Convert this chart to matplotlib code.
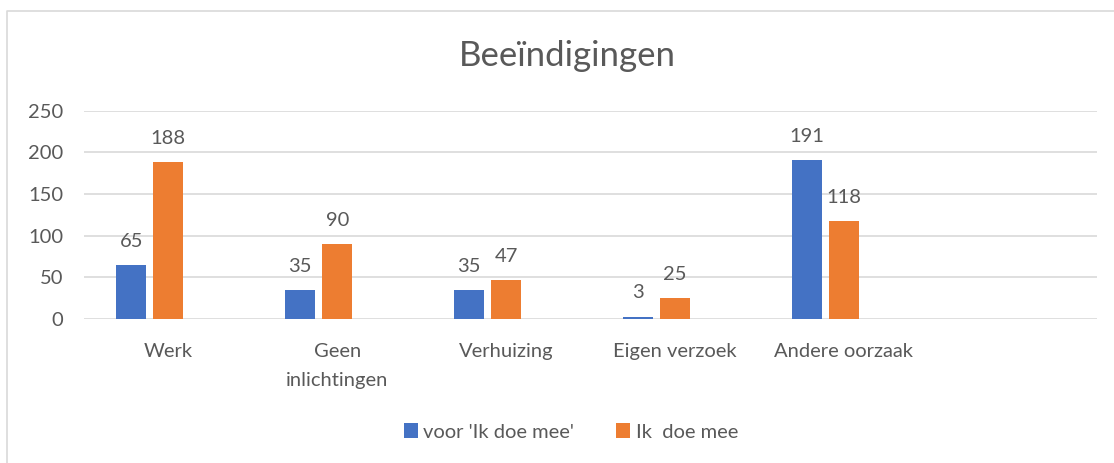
import numpy as np
import matplotlib.pyplot as plt
from matplotlib.lines import Line2D

categories = ['Werk', 'Geen\ninlichtingen', 'Verhuizing', 'Eigen verzoek', 'Andere oorzaak', '']
voor_ikdoemee = [65, 35, 35, 3, 191]
ikdoemee = [188, 90, 47, 25, 118]
series_names = ["voor 'Ik doe mee'", 'Ik  doe mee']
yticks = [0, 50, 100, 150, 200, 250]

plt.rcParams['font.family'] = ['Lato', 'DejaVu Sans']
grey = '#595959'
blue = '#4472c4'
orange = '#ed7d31'
fs = 14.5

fig = plt.figure(figsize=(11.14, 4.63), dpi=100)
ax = fig.add_axes([84 / 1114, 1 - 319 / 463, (1097 - 84) / 1114, (319 - 110.7) / 463])

x = np.arange(len(voor_ikdoemee))
w = 0.178
step = 0.219
b1 = ax.bar(x - step, voor_ikdoemee, w, color=blue, label=series_names[0], zorder=3)
b2 = ax.bar(x, ikdoemee, w, color=orange, label=series_names[1], zorder=3)

# waarden boven de staven
for bars in (b1, b2):
    for r in bars:
        ax.annotate(str(int(r.get_height())), (r.get_x() + r.get_width() / 2, r.get_height()),
                    xytext=(0, 13), textcoords='offset points', ha='center', va='baseline',
                    fontsize=fs, color=grey)

ax.set_xlim(-0.5, len(categories) - 0.5)
ax.set_ylim(0, 250)
ax.set_yticks(yticks)
ax.set_xticks(np.arange(len(categories)))
ax.set_xticklabels(categories, linespacing=1.9, va='top')
ax.tick_params(axis='both', length=0, labelsize=fs, labelcolor=grey)
ax.tick_params(axis='y', pad=15)
ax.tick_params(axis='x', pad=17)
ax.grid(axis='y', color='#d9d9d9', lw=1.2, zorder=0)
for s in ax.spines.values():
    s.set_visible(False)

fig.text(567 / 1114, 1 - 56 / 463, 'Beeïndigingen', ha='center', va='center', fontsize=25, color=grey)

fig.legend(loc='center', bbox_to_anchor=(571 / 1114, 1 - 432 / 463), ncol=2, frameon=False,
           fontsize=fs, labelcolor=grey, handlelength=0.7, handleheight=0.7,
           handletextpad=0.25, columnspacing=2.1)

fig.add_artist(Line2D([7 / 1114, 7 / 1114, 1.0], [0.0, 1 - 11 / 463, 1 - 11 / 463],
                      transform=fig.transFigure, color='#d9d9d9', lw=1.2))

fig.savefig('out.png', dpi=100, facecolor='white')
